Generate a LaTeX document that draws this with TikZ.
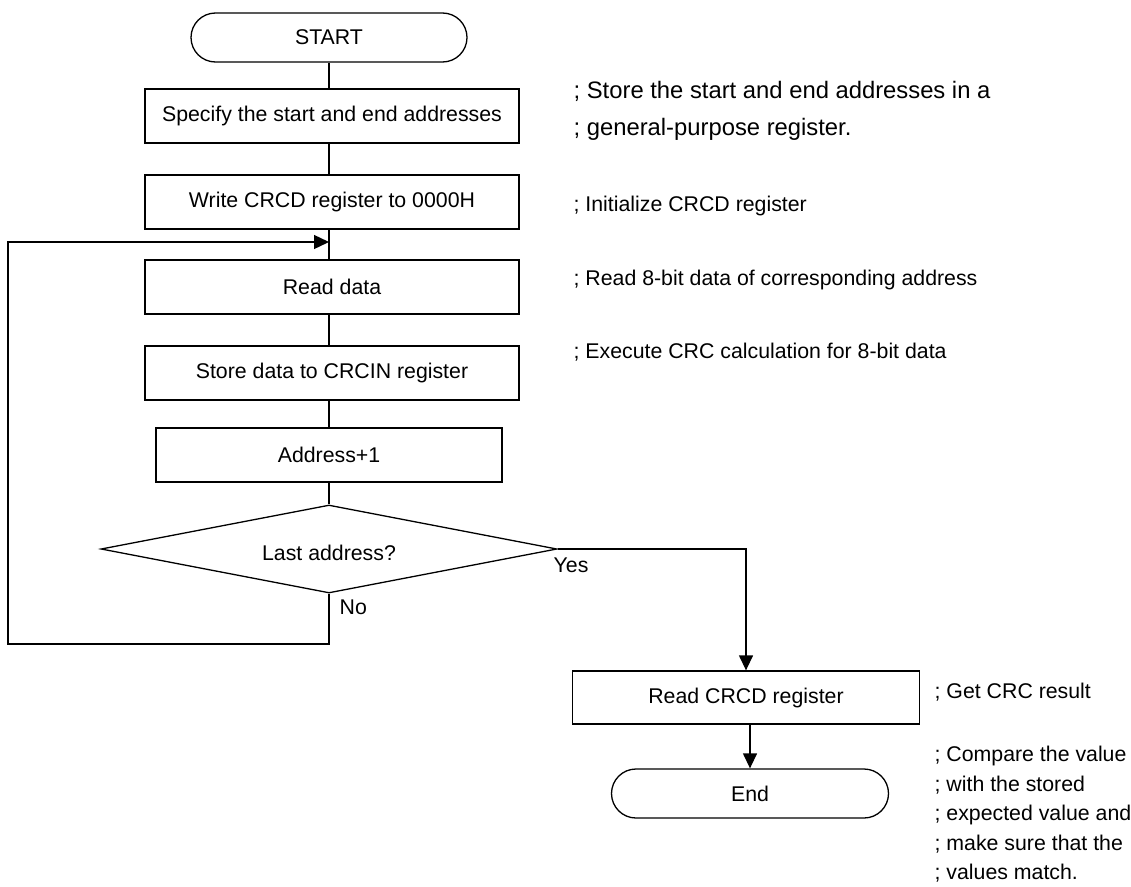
\documentclass[tikz,border=0pt]{standalone}
\usepackage{fontspec}
\setmainfont{Liberation Sans}
\usetikzlibrary{arrows.meta,shapes.geometric}
\begin{document}
\begin{tikzpicture}[x=1pt,y=-1pt,line width=1.3pt,
  txt/.style={font=\fontsize{21.3}{25}\selectfont},
  proc/.style={txt,draw,rectangle,inner sep=0pt,minimum width=374pt,minimum height=54pt},
  term/.style={txt,draw,rectangle,rounded corners=24.5pt,inner sep=0pt,minimum width=276pt,minimum height=49pt},
  dec/.style={txt,draw,diamond,inner sep=0pt,minimum width=456pt,minimum height=88pt},
  lbl/.style={txt,inner sep=0pt,anchor=west,text height=15pt,text depth=4pt},
  notebig/.style={font=\fontsize{23.8}{28}\selectfont,inner sep=0pt,anchor=west,text height=17pt,text depth=5pt},
  arr/.style={-{Triangle[length=15pt,width=14pt]}}]
\useasboundingbox (0,0) rectangle (1131,886);

% main column
\node[term] (start) at (329,37.5) {START};
\node[proc] (b1) at (332,116) {Specify the start and end addresses};
\node[proc] (b2) at (332,202) {Write CRCD register to 0000H};
\node[proc] (b3) at (332,287) {Read data};
\node[proc] (b4) at (332,373) {Store data to CRCIN register};
\node[proc,minimum width=346pt] (b5) at (329,455) {Address+1};
\node[dec] (dia) at (329,549) {};
\node[txt] (diat) at (329,553) {Last address?};
\node[proc,minimum width=347pt,minimum height=53pt] (rd) at (746,697.5) {Read CRCD register};
\node[term,minimum width=277pt] (endn) at (750,793.5) {End};

% loop corners
\coordinate (lb) at (8,644);
\coordinate (lt) at (8,242);

% connectors
\draw (start.south) -- (start.south |- b1.north);
\draw (start.south |- b1.south) -- (start.south |- b2.north);
\draw (start.south |- b2.south) -- (start.south |- b3.north);
\draw (start.south |- b3.south) -- (start.south |- b4.north);
\draw (start.south |- b4.south) -- (b5.north);
\draw (b5.south) -- (dia.north);
\draw[arr] (dia.south) -- (dia.south |- lb) -- (lb) -- (lt) -- (lt -| start.south);
\draw[arr] (dia.east) -| (rd.north);
\draw[arr] (endn.north |- rd.south) -- (endn.north);

% branch labels
\node[lbl] (yes) at (553,567) {Yes};
\node[lbl] (no) at (339,609) {No};

% annotations
\node[notebig] (n1) at (573,92) {; Store the start and end addresses in a};
\node[notebig] (n2) at (573,129) {; general-purpose register.};
\node[lbl] (n3) at (573,206) {; Initialize CRCD register};
\node[lbl] (n4) at (573,280) {; Read 8-bit data of corresponding address};
\node[lbl] (n5) at (573,353) {; Execute CRC calculation for 8-bit data};
\node[lbl] (n6) at (934,693) {; Get CRC result};
\node[lbl] (n7) at (934,756) {; Compare the value};
\node[lbl] (n8) at (934,785.5) {; with the stored};
\node[lbl] (n9) at (934,815) {; expected value and};
\node[lbl] (n10) at (934,844.5) {; make sure that the};
\node[lbl] (n11) at (934,874) {; values match.};
\end{tikzpicture}
\end{document}
